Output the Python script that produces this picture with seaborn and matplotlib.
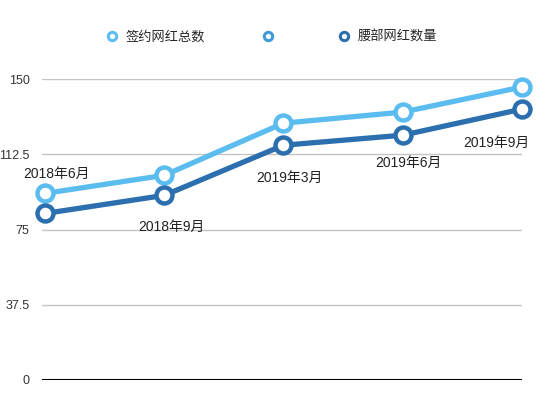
import matplotlib
matplotlib.use('Agg')
import matplotlib.pyplot as plt
from matplotlib.lines import Line2D
import numpy as np
import pandas as pd
import seaborn as sns

periods = ['2018年6月', '2018年9月', '2019年3月', '2019年6月', '2019年9月']
signed_total = [93, 102, 128, 133.5, 146]
mid_tier = [83, 92, 117, 122, 135]
series_names = ['签约网红总数', '', '腰部网红数量']

light = '#5bbcf0'
middle = '#3f9ad9'
dark = '#2b6fae'

sns.set_theme(style='white')
plt.rcParams['font.family'] = ['Liberation Sans', 'Noto Sans CJK SC', 'DejaVu Sans']

df = pd.DataFrame({'pos': np.arange(len(periods)), 'period': periods,
                   'total': signed_total, 'mid': mid_tier})

fig = plt.figure(figsize=(5.47, 3.96), dpi=100)
ax = fig.add_axes([42 / 547, 1 - 380 / 396, (522 - 42) / 547, (380 - 79) / 396])

for col, c in [('total', light), ('mid', dark)]:
    sns.lineplot(data=df, x='pos', y=col, ax=ax, color=c, linewidth=3.8,
                 marker='o', markersize=11.5, markerfacecolor='white',
                 markeredgecolor=c, markeredgewidth=3.2, clip_on=False, zorder=3)

# category labels near the points (offsets in pixels)
offsets = [(12, 40), (7, -32), (6, -33), (6, -28), (-26, -34)]
for i, (dx, dy) in enumerate(offsets):
    ax.annotate(periods[i], (df['pos'][i], df['mid'][i]), xytext=(dx * 0.72, dy * 0.72),
                textcoords='offset points', ha='center', va='center',
                fontsize=10, color='#222222')

ax.set_xlim(-0.025, 4.0)
ax.set_ylim(0, 150)
ticks = [0, 37.5, 75, 112.5, 150]
ax.set_yticks(ticks)
ax.set_yticklabels(['0', '37.5', '75', '112.5', '150'])
ax.set_xticks([])
ax.set_xlabel('')
ax.set_ylabel('')
for t in ticks[1:]:
    ax.axhline(t, color='#c4c4c4', linewidth=1, zorder=1)
ax.axhline(0, color='black', linewidth=1.5, zorder=2)
for s in ax.spines.values():
    s.set_visible(False)
ax.tick_params(axis='y', length=0, pad=9, labelsize=9, labelcolor='#333333')

handles = [Line2D([], [], linestyle='none', marker='o', markersize=6,
                  markerfacecolor='white', markeredgecolor=c, markeredgewidth=2.2)
           for c in [light, middle, dark]]
fig.legend(handles, series_names, loc='center', bbox_to_anchor=(0.497, 1 - 37 / 396),
           ncol=3, frameon=False, fontsize=9.5, handlelength=0.8, handletextpad=0.6,
           columnspacing=4.4)

fig.savefig('out.png', dpi=100, facecolor='white')
